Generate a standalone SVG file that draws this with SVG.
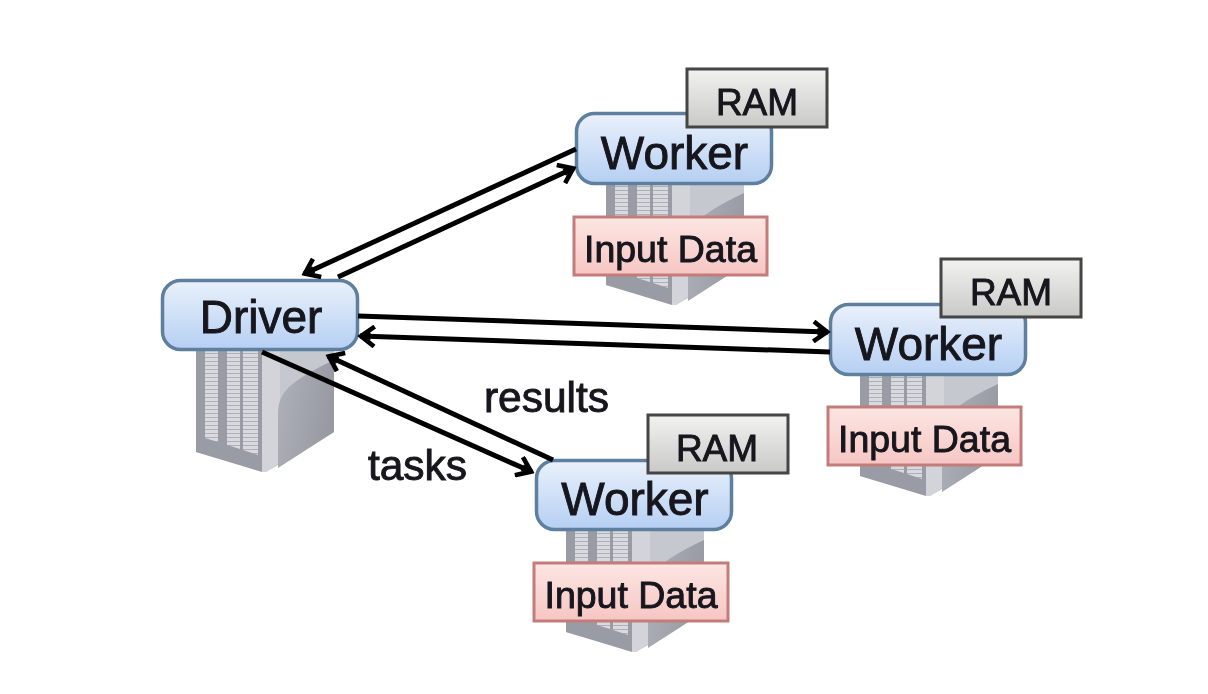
<svg xmlns="http://www.w3.org/2000/svg" width="1208" height="694" viewBox="0 0 1208 694">
<style>
.t{font-family:"Liberation Sans",Arial,sans-serif;fill:#14141c;text-anchor:middle;stroke:#14141c;stroke-width:0.9}
.box{stroke:#5f7f9f;stroke-width:3.5}
.ram{fill:url(#gr);stroke:#444;stroke-width:3}
.inp{fill:url(#rd);stroke:#c47c7a;stroke-width:3}
.c{fill:none;stroke:#050505;stroke-width:5;marker-end:url(#a)}
</style>
<defs>
<filter id="b" x="-5%" y="-5%" width="110%" height="110%"><feGaussianBlur stdDeviation="0.65"/></filter>
<linearGradient id="bl" x1="0" y1="0" x2="0" y2="1"><stop offset="0" stop-color="#eaf1fb"/><stop offset="1" stop-color="#b5cff3"/></linearGradient>
<linearGradient id="gr" x1="0" y1="0" x2="0" y2="1"><stop offset="0" stop-color="#f2f2f0"/><stop offset="1" stop-color="#c9c9c7"/></linearGradient>
<linearGradient id="rd" x1="0" y1="0" x2="0" y2="1"><stop offset="0" stop-color="#fce6e3"/><stop offset="1" stop-color="#f6c6c3"/></linearGradient>
<linearGradient id="sd" x1="0" y1="0" x2="1" y2="0.3"><stop offset="0" stop-color="#b0b2ba"/><stop offset="1" stop-color="#979aa2"/></linearGradient>
<pattern id="st" width="8" height="4" patternUnits="userSpaceOnUse"><rect width="8" height="4" fill="#d8dae0"/><rect y="3" width="8" height="1" fill="#aeb0b8"/></pattern>
<marker id="a" viewBox="0 0 12 12" refX="10.500" refY="6" markerWidth="4.600" markerHeight="4.600" orient="auto"><path d="M3 0.800L10 6L3 11.200" fill="none" stroke="#050505" stroke-width="2.400"/><path d="M5 4L10.500 6L5 8Z" fill="#050505"/></marker>
<g id="srv">
<path d="M0 0H138V82L70 122L0 102Z" fill="#c6c8cf"/>
<path d="M0 0H66V122L0 102Z" fill="#9a9ca5"/>
<path d="M66 0H84V112L70 122H66Z" fill="#d2d4da"/>
<path d="M82 118L138 82V10Q104 26 92 38Q82 48 82 62Z" fill="url(#sd)"/>
<path d="M9 0H22V92L9 88ZM31 0H44V99L31 95ZM47 0H62V105L47 100Z" fill="url(#st)"/>
</g>
</defs>
<rect width="1208" height="694" fill="#fff"/>
<g filter="url(#b)">
<g id="driver">
<use href="#srv" x="196" y="350"/>
<rect class="box" x="162.500" y="280.500" width="195" height="69" rx="18" fill="url(#bl)"/>
<text class="t" x="261" y="333" font-size="46">Driver</text>
</g>
<g id="worker1">
<use href="#srv" x="606" y="183"/>
<rect class="box" x="576.500" y="113.500" width="195" height="70" rx="18" fill="url(#bl)"/>
<text class="t" x="674.500" y="169" font-size="46">Worker</text>
<rect class="ram" x="687" y="69" width="140" height="58"/>
<text class="t" x="757" y="115" font-size="37">RAM</text>
<rect class="inp" x="574" y="217" width="193" height="58"/>
<text class="t" x="670.500" y="262" font-size="37.500">Input Data</text>
</g>
<g id="worker2">
<use href="#srv" x="860" y="374"/>
<rect class="box" x="830.500" y="304.500" width="195" height="70" rx="18" fill="url(#bl)"/>
<text class="t" x="928.500" y="360" font-size="46">Worker</text>
<rect class="ram" x="941" y="259" width="140" height="58"/>
<text class="t" x="1011" y="305" font-size="37">RAM</text>
<rect class="inp" x="828" y="407" width="193" height="58"/>
<text class="t" x="924.500" y="452" font-size="37.500">Input Data</text>
</g>
<g id="worker3">
<use href="#srv" x="566" y="530"/>
<rect class="box" x="536.500" y="460.500" width="195" height="69" rx="18" fill="url(#bl)"/>
<text class="t" x="635" y="515" font-size="46">Worker</text>
<rect class="ram" x="648" y="415" width="140" height="58"/>
<text class="t" x="717" y="461" font-size="37">RAM</text>
<rect class="inp" x="534" y="563" width="194" height="58"/>
<text class="t" x="631" y="608" font-size="37.500">Input Data</text>
</g>
<g id="connectors">
<path class="c" d="M576 149L304 274"/>
<path class="c" d="M338 277L574 168"/>
<path class="c" d="M358 316L828 332"/>
<path class="c" d="M830 352L360 336"/>
<path class="c" d="M262 352L532 472"/>
<path class="c" d="M553 460L328 356"/>
</g>
<text class="t" x="546.500" y="412" font-size="42.500">results</text>
<text class="t" x="417.500" y="480" font-size="42.500">tasks</text>
</g>
</svg>
